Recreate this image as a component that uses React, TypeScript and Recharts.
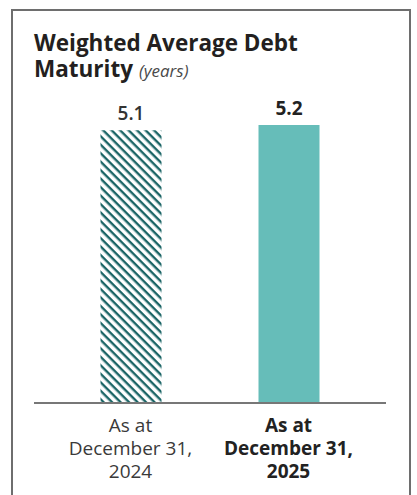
import React from 'react';
import { BarChart, Bar, XAxis, YAxis, Cell, LabelList } from 'recharts';

const categories = ['As at December 31, 2024', 'As at December 31, 2025'];
const tickLines = [
  ['As at', 'December 31,', '2024'],
  ['As at', 'December 31,', '2025'],
];
const maturityYears = [5.1, 5.2];
const valueLabels = ['5.1', '5.2'];

const data = categories.map((c, i) => ({ name: c, value: maturityYears[i], idx: i }));

const FONT = '"Open Sans", "Noto Sans", sans-serif';

const Tick = (props: any) => {
  const { x, y, payload } = props;
  const i = payload.index;
  const lines = tickLines[i];
  const bold = i === 1;
  return (
    <g>
      {lines.map((l, k) => (
        <text
          key={k}
          x={x}
          y={y + 29 + k * 23}
          textAnchor="middle"
          fontFamily={FONT}
          fontSize={19}
          fontWeight={bold ? 700 : 400}
          fill={bold ? '#222' : '#3a3a3a'}
        >
          {l}
        </text>
      ))}
    </g>
  );
};

const ValueLabel = (props: any) => {
  const { x, y, width, index } = props;
  const bold = index === 1;
  return (
    <text
      x={x + width / 2}
      y={y - 10}
      textAnchor="middle"
      fontFamily={FONT}
      fontSize={19}
      fontWeight={bold ? 700 : 600}
      fill={bold ? '#222' : '#333'}
    >
      {valueLabels[index]}
    </text>
  );
};

export default function App() {
  return (
    <div style={{ position: 'absolute', left: 0, top: 0, width: 417, height: 495, background: '#fff', overflow: 'hidden' }}>
      <div
        style={{
          position: 'absolute',
          left: 11,
          top: 9,
          width: 396,
          height: 520,
          borderLeft: '2px solid #6e6e6e',
          borderRight: '2px solid #6e6e6e',
          borderTop: '2px solid #6e6e6e',
        }}
      />
      <div
        style={{
          position: 'absolute',
          left: 34,
          top: 30,
          fontFamily: FONT,
          fontSize: 22.5,
          lineHeight: '26px',
          fontWeight: 700,
          color: '#231f20',
          whiteSpace: 'nowrap',
        }}
      >
        <div>Weighted Average Debt</div>
        <div>
          Maturity{' '}
          <span style={{ fontStyle: 'italic', fontWeight: 400, fontSize: 17, color: '#4a4a4a' }}>(years)</span>
        </div>
      </div>
      <div style={{ position: 'absolute', left: 0, top: 0 }}>
        <BarChart
          width={417}
          height={495}
          data={data}
          margin={{ top: 125, right: 31, bottom: 32, left: 34 }}
        >
          <defs>
            <pattern id="hatch" patternUnits="userSpaceOnUse" width="6" height="6" patternTransform="rotate(45)">
              <rect x="0" y="0" width="6" height="6" fill="#fff" />
              <rect x="0" y="0" width="6" height="2.4" fill="#1b6566" />
            </pattern>
          </defs>
          <XAxis
            dataKey="name"
            height={60}
            tickLine={false}
            tickSize={0}
            tickMargin={0}
            axisLine={{ stroke: '#777', strokeWidth: 2 }}
            padding={{ left: 17.5, right: 18.5 }}
            tick={<Tick />}
            interval={0}
          />
          <YAxis hide domain={[0, 5.2]} />
          <Bar dataKey="value" barSize={61} isAnimationActive={false}>
            {data.map((d, i) => (
              <Cell key={i} fill={i === 0 ? 'url(#hatch)' : '#66bdb9'} />
            ))}
            <LabelList dataKey="value" content={<ValueLabel />} />
          </Bar>
        </BarChart>
      </div>
    </div>
  );
}
